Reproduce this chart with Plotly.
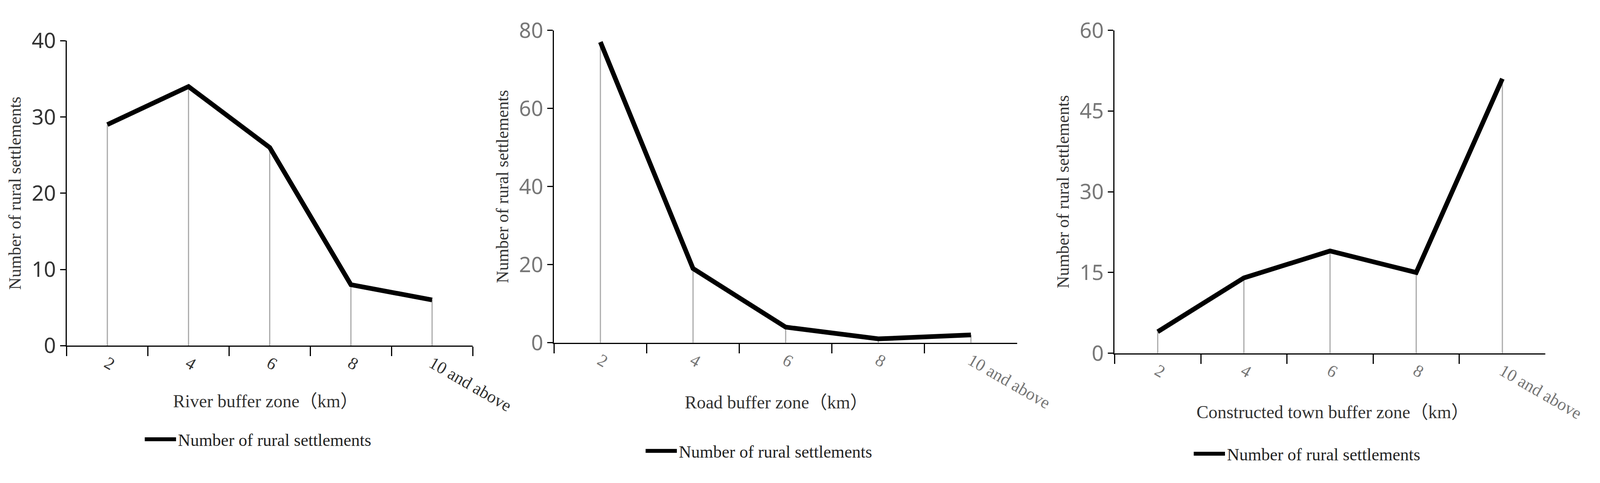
import plotly.graph_objects as go

categories = ["2", "4", "6", "8", "10 and above"]
river = [29, 34, 26, 8, 6]
road = [77, 19, 4, 1, 2]
town = [4, 14, 19, 15, 51]
series_name = "Number of rural settlements"
x_titles = ["River buffer zone（km）", "Road buffer zone（km）", "Constructed town buffer zone（km）"]
y_ranges = [(0, 40, 10), (0, 80, 20), (0, 60, 15)]

W, H = 4365, 1237
xdom = [(179/W, 1321/W), (1550/W, 2853/W), (3127/W, 4339/W)]
ydom = [(1-904/H, 1-62/H), (1-896/H, 1-33/H), (1-925/H, 1-33/H)]
xt_pos = [(739, 1057), (2175, 1061), (3741, 1088)]
leg_pos = [(393, 1163), (1802, 1195), (3344, 1203)]
tickcolor = ["#333333", "#777777", "#777777"]

serif = "Liberation Serif, Noto Sans CJK SC"
fig = go.Figure()
for i, vals in enumerate([river, road, town]):
    n = "" if i == 0 else str(i+1)
    dx, dy = [], []
    for c, v in zip(categories, vals):
        dx += [c, c, None]
        dy += [0, v, None]
    fig.add_trace(go.Scatter(x=dx, y=dy, mode="lines", line=dict(color="#aaaaaa", width=3),
                             showlegend=False, hoverinfo="skip", xaxis="x"+n, yaxis="y"+n))
    fig.add_trace(go.Scatter(x=categories, y=vals, mode="lines", name=series_name,
                             line=dict(color="black", width=12), xaxis="x"+n, yaxis="y"+n,
                             legend="legend"+n))
    lo, hi, st = y_ranges[i]
    fig.layout["xaxis"+n] = dict(domain=xdom[i], anchor="y"+n, type="category",
        categoryorder="array", categoryarray=categories, range=[-0.5, 4.5],
        tickson="boundaries", ticks="outside", ticklen=24, tickwidth=3, tickcolor="black",
        showline=True, linecolor="black", linewidth=3, showgrid=False, zeroline=False,
        tickfont=dict(family=serif, size=44, color=tickcolor[i]))
    fig.layout["yaxis"+n] = dict(domain=ydom[i], anchor="x"+n, range=[lo, hi],
        tickvals=list(range(lo, hi+1, st)), ticks="outside", ticklen=14, tickwidth=3,
        tickcolor="black", showline=True, linecolor="black", linewidth=3, showgrid=False,
        zeroline=False, tickfont=dict(family="Noto Sans", size=54, color=tickcolor[i]),
        title=dict(text=series_name, font=dict(family=serif, size=44, color="#333333"), standoff=14))
    fig.layout["legend"+n] = dict(x=leg_pos[i][0]/W, y=1-leg_pos[i][1]/H, xanchor="left",
        yanchor="middle", font=dict(family=serif, size=44, color="#222222"),
        bgcolor="rgba(0,0,0,0)", itemwidth=80)
    fig.add_annotation(text=x_titles[i], x=xt_pos[i][0]/W, y=1-xt_pos[i][1]/H, xref="paper",
        yref="paper", showarrow=False, xanchor="center", yanchor="middle",
        font=dict(family=serif, size=46, color="#333333"))

fig.update_layout(autosize=True, margin=dict(l=0, r=0, t=0, b=0),
                  paper_bgcolor="white", plot_bgcolor="white")
fig.write_html("out.html", default_width="100%", default_height="100%")
